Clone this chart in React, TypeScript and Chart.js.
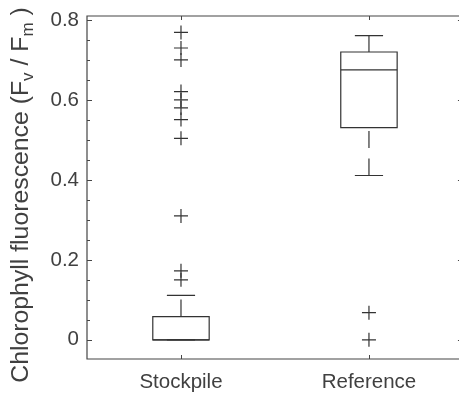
import React, { useEffect, useRef } from "react";
import { Chart, registerables } from "chart.js";

Chart.register(...registerables);

// ---- data ----
const CATEGORIES = ["Stockpile", "Reference"];
const POSITIONS = [1, 2];
const LOWER_WHISKER = [0, 0.411];
const Q1 = [0, 0.531];
const MEDIAN = [0, 0.675];
const Q3 = [0.058, 0.72];
const UPPER_WHISKER = [0.111, 0.761];
const STOCKPILE_OUTLIERS = [0.769, 0.73, 0.7, 0.621, 0.6, 0.58, 0.551, 0.504, 0.31, 0.1725, 0.15];
const REFERENCE_OUTLIERS = [0.068, 0];
const Y_TICKS = [0, 0.2, 0.4, 0.6, 0.8];
const Y_MINOR_STEP = 0.05;
const Y_MIN = -0.048;
const Y_MAX = 0.81;
const X_MIN = 0.5;
const X_AXIS_RIGHT = 2.5; // right axis position (just outside the visible picture)
const X_MAX_VISIBLE = 2.479;
const Y_TITLE_PARTS = [
  { text: "Chlorophyll fluorescence (F", sub: false },
  { text: "v", sub: true },
  { text: " / F", sub: false },
  { text: "m", sub: true },
  { text: " )", sub: false },
];

// ---- styles ----
const FONT = "'Liberation Sans', Arial, Helvetica, sans-serif";
const TEXT_COLOR = "#404040";
const LINE_COLOR = "#333333";
const AXIS_COLOR = "#454545";
const BOX_WIDTH = 0.3;
const CAP_WIDTH = 0.15;
const DASH = [17, 10.6];

const boxPlugin = {
  id: "boxes",
  beforeDatasetsDraw(chart: any) {
    const { ctx } = chart;
    const x = chart.scales.x;
    const y = chart.scales.y;
    ctx.save();
    ctx.strokeStyle = LINE_COLOR;
    ctx.lineWidth = 1.2;
    POSITIONS.forEach((pos, i) => {
      const cx = x.getPixelForValue(pos);
      const bl = x.getPixelForValue(pos - BOX_WIDTH / 2);
      const br = x.getPixelForValue(pos + BOX_WIDTH / 2);
      const cl = x.getPixelForValue(pos - CAP_WIDTH / 2);
      const cr = x.getPixelForValue(pos + CAP_WIDTH / 2);
      const yq1 = y.getPixelForValue(Q1[i]);
      const yq3 = y.getPixelForValue(Q3[i]);
      const ymed = y.getPixelForValue(MEDIAN[i]);
      const ylo = y.getPixelForValue(LOWER_WHISKER[i]);
      const yhi = y.getPixelForValue(UPPER_WHISKER[i]);
      // whiskers (dashed, drawn from lower value upward)
      ctx.setLineDash(DASH);
      if (ylo - yq1 > 0.5) {
        ctx.beginPath();
        ctx.moveTo(cx, ylo);
        ctx.lineTo(cx, yq1);
        ctx.stroke();
      }
      if (yq3 - yhi > 0.5) {
        ctx.beginPath();
        ctx.moveTo(cx, yq3);
        ctx.lineTo(cx, yhi);
        ctx.stroke();
      }
      ctx.setLineDash([]);
      // caps
      ctx.beginPath();
      ctx.moveTo(cl, yhi);
      ctx.lineTo(cr, yhi);
      ctx.moveTo(cl, ylo);
      ctx.lineTo(cr, ylo);
      ctx.stroke();
      // box
      ctx.beginPath();
      ctx.rect(bl, yq3, br - bl, yq1 - yq3);
      ctx.stroke();
      // median
      ctx.beginPath();
      ctx.moveTo(bl, ymed);
      ctx.lineTo(br, ymed);
      ctx.stroke();
    });
    ctx.restore();
  },
};

const framePlugin = {
  id: "frame",
  afterDraw(chart: any) {
    const { ctx, chartArea } = chart;
    const x = chart.scales.x;
    const y = chart.scales.y;
    const { left, top, bottom } = chartArea;
    const axisRight = x.getPixelForValue(X_AXIS_RIGHT);
    ctx.save();
    ctx.strokeStyle = AXIS_COLOR;
    ctx.lineWidth = 1.2;
    ctx.beginPath();
    ctx.rect(left, top, axisRight - left, bottom - top);
    ctx.stroke();
    ctx.lineWidth = 1;
    ctx.beginPath();
    // y ticks (major + minor), left and right
    const start = Math.ceil(Y_MIN / Y_MINOR_STEP) * Y_MINOR_STEP;
    for (let v = start; v <= Y_MAX + 1e-9; v += Y_MINOR_STEP) {
      const isMajor = Y_TICKS.some((t) => Math.abs(t - v) < 1e-6);
      const len = isMajor ? 5 : 3;
      const py = Math.round(y.getPixelForValue(v)) + 0.5;
      ctx.moveTo(left, py);
      ctx.lineTo(left + len, py);
      ctx.moveTo(axisRight, py);
      ctx.lineTo(axisRight - len, py);
    }
    // x ticks top and bottom
    POSITIONS.forEach((p) => {
      const px = Math.round(x.getPixelForValue(p)) + 0.5;
      ctx.moveTo(px, bottom);
      ctx.lineTo(px, bottom - 4);
      ctx.moveTo(px, top);
      ctx.lineTo(px, top + 4);
    });
    ctx.stroke();

    // y-axis title with subscripts
    const mainFont = `24.8px ${FONT}`;
    const subFont = `17px ${FONT}`;
    let total = 0;
    const widths = Y_TITLE_PARTS.map((p) => {
      ctx.font = p.sub ? subFont : mainFont;
      const w = ctx.measureText(p.text).width;
      total += w;
      return w;
    });
    const cy = (top + bottom) / 2 + 7.5;
    ctx.translate(28, cy);
    ctx.rotate(-Math.PI / 2);
    ctx.fillStyle = TEXT_COLOR;
    ctx.textBaseline = "alphabetic";
    ctx.textAlign = "left";
    let pos = -total / 2;
    Y_TITLE_PARTS.forEach((p, i) => {
      ctx.font = p.sub ? subFont : mainFont;
      ctx.fillText(p.text, pos, p.sub ? 5 : 0);
      pos += widths[i];
    });
    ctx.restore();
  },
};

export default function App() {
  const canvasRef = useRef<HTMLCanvasElement | null>(null);

  useEffect(() => {
    if (!canvasRef.current) return;
    const crossPoint = {
      pointStyle: "cross",
      pointRadius: 7,
      pointBorderWidth: 1.2,
      pointBorderColor: LINE_COLOR,
      pointBackgroundColor: LINE_COLOR,
      showLine: false,
    };
    const chart = new Chart(canvasRef.current, {
      type: "scatter",
      data: {
        datasets: [
          {
            label: CATEGORIES[0],
            data: STOCKPILE_OUTLIERS.map((v) => ({ x: POSITIONS[0], y: v })),
            ...crossPoint,
          } as any,
          {
            label: CATEGORIES[1],
            data: REFERENCE_OUTLIERS.map((v) => ({ x: POSITIONS[1], y: v })),
            ...crossPoint,
          } as any,
        ],
      },
      options: {
        responsive: false,
        maintainAspectRatio: false,
        devicePixelRatio: 1,
        animation: false,
        layout: { autoPadding: false, padding: { top: 16, right: 0, left: 0, bottom: 0 } },
        plugins: {
          legend: { display: false },
          tooltip: { enabled: false },
        },
        scales: {
          x: {
            type: "linear",
            min: X_MIN,
            max: X_MAX_VISIBLE,
            grid: { display: false, drawTicks: false },
            border: { display: false },
            afterBuildTicks: (scale: any) => {
              scale.ticks = POSITIONS.map((v) => ({ value: v }));
            },
            afterFit: (scale: any) => {
              scale.height = 36;
            },
            ticks: {
              autoSkip: false,
              maxRotation: 0,
              padding: 11,
              color: TEXT_COLOR,
              font: { family: FONT, size: 20.5 },
              callback: (value: any) => {
                const idx = POSITIONS.indexOf(Number(value));
                return idx >= 0 ? CATEGORIES[idx] : "";
              },
            },
          },
          y: {
            type: "linear",
            min: Y_MIN,
            max: Y_MAX,
            grid: { display: false, drawTicks: true, tickLength: 8 },
            border: { display: false },
            afterBuildTicks: (scale: any) => {
              scale.ticks = Y_TICKS.map((v) => ({ value: v }));
            },
            afterFit: (scale: any) => {
              scale.width = 87;
            },
            ticks: {
              padding: 0,
              color: TEXT_COLOR,
              font: { family: FONT, size: 20.5 },
              callback: (value: any) => {
                const v = Number(value);
                return Math.abs(v) < 1e-9 ? "0" : v.toFixed(1);
              },
            },
          },
        },
      },
      plugins: [boxPlugin, framePlugin],
    } as any);
    return () => chart.destroy();
  }, []);

  return (
    <div
      style={{
        position: "fixed",
        left: 0,
        top: 0,
        width: 459,
        height: 395,
        overflow: "hidden",
        background: "#ffffff",
      }}
    >
      <canvas ref={canvasRef} width={459} height={395} style={{ display: "block" }} />
    </div>
  );
}
